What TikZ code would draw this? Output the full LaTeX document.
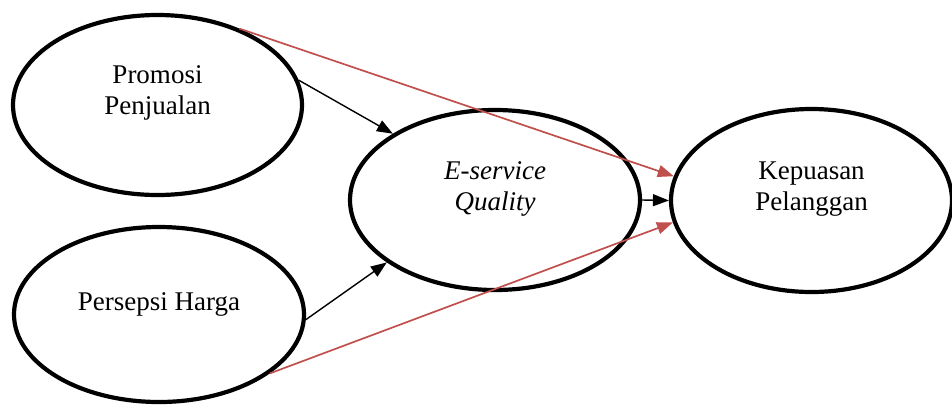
\documentclass[tikz,border=0pt]{standalone}
\usepackage{fontspec}
\setmainfont{Liberation Serif}
\usetikzlibrary{arrows.meta,shapes.geometric}
\definecolor{redarrow}{RGB}{192,80,77}
\tikzset{
  var/.style={draw=black, line width=4.2pt, ellipse, inner sep=0pt, fill=white},
  lbl/.style={align=center, font=\fontsize{27}{30.5}\selectfont, inner sep=0pt},
  blk/.style={draw=black, line width=1.4pt, -{Triangle[length=16pt,width=12pt]}},
  redc/.style={draw=redarrow, line width=1.7pt, -{Triangle[length=16pt,width=12pt]}}
}
\begin{document}
\begin{tikzpicture}[x=1pt,y=-1pt]
\useasboundingbox (0,0) rectangle (952,405);
\node[var, minimum width=289pt, minimum height=180pt] (pp) at (157.5,105) {};
\node[var, minimum width=290pt, minimum height=175pt] (ph) at (159,314.5) {};
\node[var, minimum width=290pt, minimum height=180pt] (es) at (495,200) {};
\node[var, minimum width=281pt, minimum height=183pt] (kp) at (811.5,200.5) {};
\node[lbl, yshift=12pt] (tpp) at (pp.center) {Promosi\\Penjualan};
\node[lbl, yshift=10.5pt] (tph) at (ph.center) {Persepsi Harga};
\node[lbl, yshift=11pt] (tes) at (es.center) {\itshape E-service\\\itshape Quality};
\node[lbl, yshift=11.5pt] (tkp) at (kp.center) {Kepuasan\\Pelanggan};
\draw[blk] (pp.10) -- (es.147);
\draw[blk] (ph.-2) -- (es.210);
\draw[blk] (es.east) -- (kp.west);
\draw[redc] (pp.43.5) -- (kp.170.5);
\draw[redc] (ph.-28) -- (kp.189);
\end{tikzpicture}
\end{document}
